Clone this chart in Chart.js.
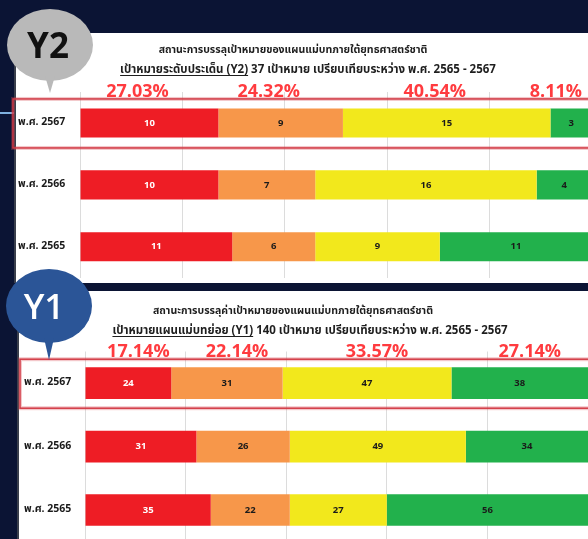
<!DOCTYPE html>
<html lang="th">
<head>
<meta charset="utf-8">
<script src="https://cdn.jsdelivr.net/npm/chart.js@4.4.1/dist/chart.umd.min.js"></script>
<style>
  html, body { margin: 0; padding: 0; }
  body {
    width: 588px; height: 539px; overflow: hidden; position: relative;
    background: #0b1434;
    font-family: "Noto Sans Thai", "Noto Sans", "DejaVu Sans", sans-serif;
  }
  .panel { position: absolute; background: #fff; border-left: 2px solid #3a3f4c; }
  #panelY2 { left: 14px; top: 33px; width: 600px; height: 250px; }
  #panelY1 { left: 17px; top: 291px; width: 600px; height: 260px; }
  canvas { position: absolute; left: 0; }
  #chartY2 { top: 0; }
  #chartY1 { top: 284px; }
  .title {
    position: absolute; width: 520px; text-align: center; white-space: nowrap;
    font-weight: 700; color: #1e1e1e; z-index: 3;
  }
  .t1 { font-size: 10.5px; }
  .t2 { font-size: 11.5px; }
  .title u { text-underline-offset: 2px; }
  .bubble { position: absolute; z-index: 5; }
  .rule { position: absolute; left: 0; top: 112px; width: 14px; height: 2px; background: #7fb0de; }
</style>
</head>
<body>
<div class="rule"></div>
<div class="panel" id="panelY2"></div>
<div class="panel" id="panelY1"></div>

<canvas id="chartY2" width="600" height="284"></canvas>
<canvas id="chartY1" width="600" height="264"></canvas>

<div class="title t1" style="left:33px; top:42px;">สถานะการบรรลุเป้าหมายของแผนแม่บทภายใต้ยุทธศาสตร์ชาติ</div>
<div class="title t2" style="left:48px; top:61px;"><u>เป้าหมายระดับประเด็น (Y2)</u> 37 เป้าหมาย เปรียบเทียบระหว่าง พ.ศ. 2565 - 2567</div>
<div class="title t1" style="left:33px; top:303px;">สถานะการบรรลุค่าเป้าหมายของแผนแม่บทภายใต้ยุทธศาสตร์ชาติ</div>
<div class="title t2" style="left:50px; top:322px;"><u>เป้าหมายแผนแม่บทย่อย (Y1)</u> 140 เป้าหมาย เปรียบเทียบระหว่าง พ.ศ. 2565 - 2567</div>

<svg class="bubble" style="left:0; top:0;" width="100" height="100">
  <ellipse cx="50" cy="45" rx="43" ry="36" fill="#b9b9b9"/>
  <polygon points="45,76 55,76 50,93" fill="#b9b9b9"/>
  <text x="48" y="58" text-anchor="middle" font-family="Open Sans, sans-serif" font-weight="700" font-size="35" fill="#111">Y2</text>
</svg>
<svg class="bubble" style="left:0; top:266px;" width="100" height="100">
  <ellipse cx="49" cy="40" rx="43" ry="37" fill="#2b5597"/>
  <polygon points="44,72 54,72 49,94" fill="#2b5597"/>
  <text x="44" y="53" text-anchor="middle" font-family="Open Sans, sans-serif" font-weight="600" font-size="35" fill="#ffffff">Y1</text>
</svg>

<script>
// Years (categories), top row is the latest year
const years = ['พ.ศ. 2567', 'พ.ศ. 2566', 'พ.ศ. 2565'];
const statusNames = ['วิกฤต', 'ต่ำกว่าค่าเป้าหมาย', 'ใกล้เคียงค่าเป้าหมาย', 'บรรลุค่าเป้าหมาย'];
const statusColors = ['#ee1d25', '#f7974a', '#f2e81c', '#22b14c'];

// Y2: issue-level targets (37 in total)
const y2Total = 37;
const y2Red = [10, 10, 11];
const y2Orange = [9, 7, 6];
const y2Yellow = [15, 16, 9];
const y2Green = [3, 4, 11];

// Y1: sub-master-plan targets (140 in total)
const y1Total = 140;
const y1Red = [24, 31, 35];
const y1Orange = [31, 26, 22];
const y1Yellow = [47, 49, 27];
const y1Green = [38, 34, 56];

const labelFont = '"Noto Sans Thai", "Noto Sans", "DejaVu Sans", sans-serif';

// Writes each segment's count in the middle of the segment
const segmentLabels = {
  id: 'segmentLabels',
  afterDatasetsDraw(chart) {
    const ctx = chart.ctx;
    ctx.save();
    ctx.font = '700 9.5px "Open Sans", sans-serif';
    ctx.textAlign = 'center';
    ctx.textBaseline = 'middle';
    chart.data.datasets.forEach((ds, di) => {
      chart.getDatasetMeta(di).data.forEach((bar, i) => {
        const cx = (bar.x + bar.base) / 2;
        ctx.fillStyle = di === 0 ? '#ffffff' : '#1a1a1a';
        ctx.fillText(String(ds.data[i]), cx, bar.y);
      });
    });
    ctx.restore();
  }
};

// Highlight frame around the latest year and its share of each status above it
const latestYear = {
  id: 'latestYear',
  afterDraw(chart, args, opts) {
    const ctx = chart.ctx;
    const y = chart.scales.y.getPixelForValue(0);
    ctx.save();
    ctx.strokeStyle = 'rgba(214, 70, 80, 0.3)';
    ctx.lineWidth = 4;
    ctx.strokeRect(opts.frameLeft, y - 24, chart.width, 49);
    ctx.strokeStyle = '#d23a45';
    ctx.lineWidth = 1.5;
    ctx.strokeRect(opts.frameLeft, y - 24, chart.width, 49);

    ctx.font = '700 18px "Open Sans", sans-serif';
    ctx.fillStyle = '#ff3b3f';
    ctx.textAlign = 'center';
    ctx.textBaseline = 'middle';
    chart.data.datasets.forEach((ds, di) => {
      const bar = chart.getDatasetMeta(di).data[0];
      const text = (ds.data[0] / opts.total * 100).toFixed(2) + '%';
      const w = ctx.measureText(text).width;
      let x = (bar.x + bar.base) / 2 + opts.nudge;
      x = Math.min(x, 582 - w / 2);
      ctx.fillText(text, x, y - 31);
    });
    ctx.restore();
  }
};

function buildChart(id, series, total, layout) {
  return new Chart(document.getElementById(id), {
    type: 'bar',
    data: {
      labels: years,
      datasets: series.map((values, k) => ({
        label: statusNames[k],
        data: values,
        backgroundColor: statusColors[k],
        borderWidth: 0,
        categoryPercentage: 1,
        barPercentage: layout.barPct
      }))
    },
    options: {
      indexAxis: 'y',
      responsive: false,
      animation: false,
      layout: { padding: layout.padding },
      scales: {
        x: {
          stacked: true, min: 0, max: total,
          ticks: { display: false, stepSize: total / 5 },
          grid: { color: '#dcdcdc', lineWidth: 1, drawTicks: false },
          border: { display: false }
        },
        y: {
          stacked: true,
          afterFit(axis) { axis.width = layout.axisWidth; },
          grid: { display: false, drawTicks: false },
          border: { display: false },
          ticks: {
            crossAlign: 'far', padding: 0, color: '#1a1a1a',
            font: { family: labelFont, size: 10.5, weight: '700' }
          }
        }
      },
      plugins: {
        legend: { display: false },
        tooltip: { enabled: false },
        latestYear: { total: total, frameLeft: layout.frameLeft, nudge: layout.nudge }
      }
    },
    plugins: [segmentLabels, latestYear]
  });
}

buildChart('chartY2', [y2Red, y2Orange, y2Yellow, y2Green], y2Total, {
  padding: { left: 18, right: 8, top: 92, bottom: 1 },
  axisWidth: 62, barPct: 0.47, frameLeft: 13, nudge: -12
});

buildChart('chartY1', [y1Red, y1Orange, y1Yellow, y1Green], y1Total, {
  padding: { left: 24, right: 12, top: 67.5, bottom: 1.5 },
  axisWidth: 61, barPct: 0.5, frameLeft: 20, nudge: 10
});
</script>
</body>
</html>
